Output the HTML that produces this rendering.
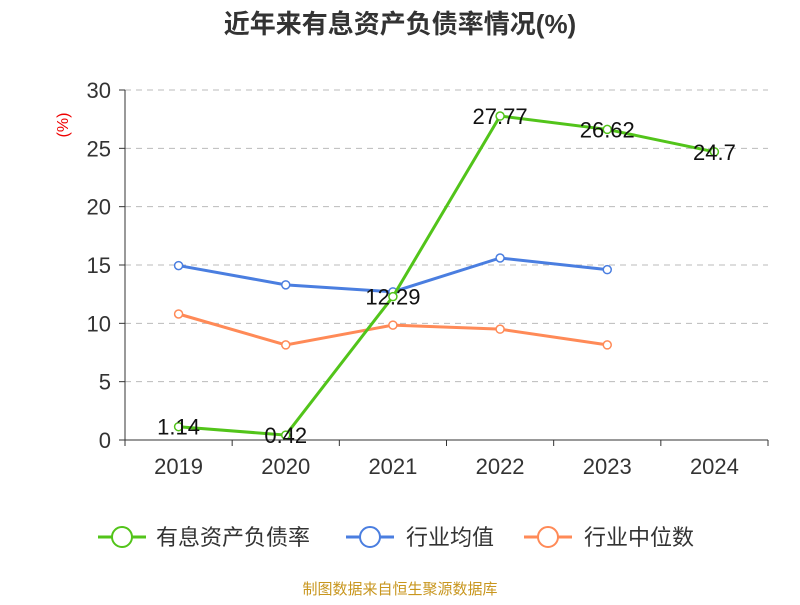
<!DOCTYPE html>
<html><head><meta charset="utf-8"><style>
body{margin:0;background:#fff;}
svg text{font-family:"Liberation Sans","Noto Sans CJK SC",sans-serif;}
</style></head><body>
<svg id="chart" width="800" height="600" xmlns="http://www.w3.org/2000/svg">
<text x="400" y="33" text-anchor="middle" font-size="26" font-weight="bold" fill="#333">近年来有息资产负债率情况(%)</text>
<text x="68" y="125" text-anchor="middle" font-size="16" fill="#e00" transform="rotate(-90 68 125)">(%)</text>
<g id="grid"></g><g id="axes"></g><g id="series"></g>
<g>
<g><line x1="98" y1="537" x2="146" y2="537" stroke="#52c41a" stroke-width="3"/><circle cx="122" cy="537" r="10" fill="#fff" stroke="#52c41a" stroke-width="2"/><text x="156" y="545" font-size="22" fill="#333">有息资产负债率</text></g>
<g><line x1="346" y1="537" x2="394" y2="537" stroke="#4a7ee0" stroke-width="3"/><circle cx="370" cy="537" r="10" fill="#fff" stroke="#4a7ee0" stroke-width="2"/><text x="406" y="545" font-size="22" fill="#333">行业均值</text></g>
<g><line x1="524" y1="537" x2="572" y2="537" stroke="#ff8a57" stroke-width="3"/><circle cx="548" cy="537" r="10" fill="#fff" stroke="#ff8a57" stroke-width="2"/><text x="584" y="545" font-size="22" fill="#333">行业中位数</text></g>
</g>
<text x="400" y="594" text-anchor="middle" font-size="15" fill="#c8961e">制图数据来自恒生聚源数据库</text>
</svg>
<script>
const categories=["2019","2020","2021","2022","2023","2024"];
const debtRatio=[1.14,0.42,12.29,27.77,26.62,24.7];
const industryAvg=[14.95,13.3,12.7,15.6,14.6];
const industryMedian=[10.8,8.15,9.85,9.5,8.15];
const yTicks=[0,5,10,15,20,25,30];
const NS="http://www.w3.org/2000/svg";
const x0=125,x1=768,y0=440,y1=90,yMax=30;
const bw=(x1-x0)/categories.length;
const xs=i=>x0+bw*(i+0.5);
const ys=v=>y0-(v/yMax)*(y0-y1);
function mk(tag,attrs,parent,txt){const e=document.createElementNS(NS,tag);for(const k in attrs)e.setAttribute(k,attrs[k]);if(txt!==undefined)e.textContent=txt;document.getElementById(parent).appendChild(e);return e;}
yTicks.forEach(t=>{
 if(t>0){const g=mk('line',{x1:x0,x2:x1,y1:ys(t),y2:ys(t),stroke:'#bbb','stroke-dasharray':'6,5'},'grid');
 
 }
 const tk=mk('line',{x1:x0-6,x2:x0,y1:ys(t),y2:ys(t),stroke:'#333'},'axes');
 
 
 const l=mk('text',{x:x0-14,y:ys(t)+8,'text-anchor':'end','font-size':22,fill:'#333'},'axes',String(t));
 
 
});
const ya=mk('line',{x1:x0,x2:x0,y1:y1,y2:y0,stroke:'#333'},'axes');


const xa=mk('line',{x1:x0,x2:x1,y1:y0,y2:y0,stroke:'#333'},'axes');


for(let i=0;i<=categories.length;i++){const t=mk('line',{x1:x0+bw*i,x2:x0+bw*i,y1:y0,y2:y0+6,stroke:'#333'},'axes');
 
 }
categories.forEach((c,i)=>{const l=mk('text',{x:xs(i),y:y0+34,'text-anchor':'middle','font-size':22,fill:'#333'},'axes',c);
 
 });
function series(data,color,name,labels){
 const p=mk('polyline',{points:data.map((v,i)=>xs(i)+','+ys(v)).join(' '),fill:'none',stroke:color,'stroke-width':3},'series');
 
 
 data.forEach((v,i)=>{const c=mk('circle',{cx:xs(i),cy:ys(v),r:4,fill:'#fff',stroke:color,'stroke-width':1.5},'series');
  
  
  if(labels){const t=mk('text',{x:xs(i),y:ys(v)+8,'text-anchor':'middle','font-size':22,fill:'#111'},'series',String(v));
   
   }});
}
series(industryAvg,'#4a7ee0','industry-avg',false);
series(industryMedian,'#ff8a57','industry-median',false);
series(debtRatio,'#52c41a','debt-ratio',true);
</script>
</body></html>
